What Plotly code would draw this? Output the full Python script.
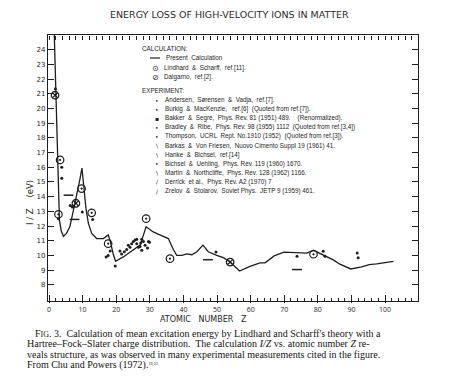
import plotly.graph_objects as go

# ---------------- data ----------------
curve_z = [1.55, 2.75, 3.1, 3.6, 4.3, 5.2, 6.2, 7.2, 8.2, 9.2, 9.8, 10.5, 11.0, 11.7, 12.7,
           14.2, 16.2, 17.6, 18.2, 19.1, 19.8, 22.1, 25.1, 27.1, 28.9, 31.0, 33.0, 35.5,
           37.0, 38.0, 39.5, 41.0, 42.5, 44.0, 45.8, 47.4, 49.9, 51.9, 53.9, 56.7, 59.8,
           62.8, 64.3, 67.0, 69.9, 73.9, 76.7, 78.7, 81.0, 84.6, 86.4, 89.8, 93.0, 95.3,
           97.5, 102.5]
curve_v = [25.2, 13.8, 12.4, 11.7, 11.3, 11.5, 11.95, 13.0, 14.0, 15.2, 15.95, 14.2, 13.2,
           12.2, 11.5, 11.15, 11.15, 11.4, 11.0, 10.1, 9.6, 9.9, 10.35, 10.7, 11.95, 11.6,
           11.4, 11.15, 10.4, 10.0, 10.0, 10.1, 10.05, 10.25, 10.7, 10.25, 10.0, 9.85, 9.55,
           8.94, 9.25, 9.5, 9.5, 9.97, 10.23, 10.18, 10.16, 10.35, 10.08, 9.7, 9.42, 9.08,
           9.22, 9.38, 9.42, 9.6]

lindhard_z = [2.8, 3.3, 9.7, 12.7, 17.6, 28.9, 36.0, 78.7]
lindhard_v = [12.8, 16.5, 14.55, 12.9, 10.8, 12.5, 9.78, 10.08]

dalgarno_z = [1.8, 8.0, 53.9]
dalgarno_v = [20.9, 13.55, 9.55]

exp_dot_z = [1.9, 3.8, 3.8, 2.8, 6.3, 6.9, 7.3, 9.9, 13.0, 17.0, 17.6, 18.2, 19.7, 21.1,
             21.6, 22.4, 23.1, 23.6, 24.1, 24.6, 25.1, 25.6, 26.1, 26.1, 26.6, 27.1, 27.3,
             27.6, 27.6, 28.1, 28.6, 29.3, 29.6, 29.9, 49.7, 73.8, 81.6, 82.1, 91.7, 92.0]
exp_dot_v = [21.35, 16.0, 15.25, 12.5, 13.4, 13.3, 13.35, 12.95, 12.45, 9.9, 10.0, 10.3,
             9.28, 10.3, 10.1, 10.25, 10.4, 10.7, 10.55, 10.8, 10.95, 11.05, 11.1, 10.8,
             10.55, 10.6, 10.85, 11.1, 10.35, 10.95, 10.7, 10.5, 10.95, 10.9, 10.23, 9.95,
             10.28, 9.95, 10.16, 9.85]

exp_dash_z = [5.8, 7.6, 47.3, 73.8]
exp_dash_v = [14.1, 12.45, 9.71, 9.04]

x_major_step = 10
x_minor_step = 2
y_tick_vals = list(range(8, 25))

title_text = "ENERGY LOSS OF HIGH-VELOCITY IONS IN MATTER"
x_title = "ATOMIC&nbsp;&nbsp;&nbsp;NUMBER&nbsp;&nbsp;&nbsp;Z"
y_title = "I / Z&nbsp;&nbsp;&nbsp;&nbsp;(eV)"

calc_header = "CALCULATION:"
calc_labels = ["Present  Calculation",
               "Lindhard  &  Scharff,  ref.[11].",
               "Dalgarno,  ref.[2]."]
calc_glyphs = ["line", "⊙", "⊘"]

exp_header = "EXPERIMENT:"
exp_labels = [
    "Andersen,  Sørensen  &  Vadja,  ref.[7].",
    "Burkig  &  MacKenzie,   ref.[6]  (Quoted from ref.[7]).",
    "Bakker  &  Segre,  Phys. Rev. 81 (1951) 489.    (Renormalized).",
    "Bradley  &  Ribe,  Phys. Rev. 98 (1955) 1112  (Quoted from ref.[3,4])",
    "Thompson,  UCRL  Rept. No.1910 (1952)  (Quoted from ref.[3]).",
    "Barkas  &  Von Friesen,  Nuovo Cimento Suppl 19 (1961) 41.",
    "Hanke  &  Bichsel,  ref.[14]",
    "Bichsel  &  Uehling,  Phys. Rev. 119 (1960) 1670.",
    "Martin  &  Northcliffe,  Phys. Rev. 128 (1962) 1166.",
    "Derrick  et al.,  Phys. Rev. A2 (1970) 7",
    "Zrelov  &  Stolarov,  Soviet Phys.  JETP 9 (1959) 461.",
]
exp_glyphs = ["•", "•", "▪", "•", "•", "\\", "\\", "•", "\\", "/", "/"]

caption_lines = [
    "F<span style='font-size:8px'>IG</span>. 3.  Calculation of mean excitation energy by Lindhard and Scharff's theory with a",
    "Hartree–Fock–Slater charge distribution.  The calculation <i>I/Z</i> vs. atomic number <i>Z</i> re-",
    "veals structure, as was observed in many experimental measurements cited in the figure.",
    "From Chu and Powers (1972).<span style='font-size:6px'><sup>19,23</sup></span>",
]

# ---------------- layout geometry ----------------
W, H = 465, 389
L, R, T, B = 48, 47, 35, 88
PW, PH = W - L - R, H - T - B
INK = "#1e1e1e"
XR = [-0.3, 109.8]


def px(x):
    return (x - L) / PW


def py(y):
    return (H - B - y) / PH


fig = go.Figure()

fig.add_trace(go.Scatter(x=curve_z, y=curve_v, mode="lines",
                         line=dict(color=INK, width=1.3), name="Present Calculation"))
fig.add_trace(go.Scatter(x=exp_dot_z, y=exp_dot_v, mode="markers",
                         marker=dict(color=INK, size=3), name="Experiment"))
fig.add_trace(go.Scatter(x=exp_dash_z, y=exp_dash_v, mode="markers",
                         marker=dict(symbol="line-ew", size=7,
                                     line=dict(color=INK, width=1.5)), name="Experiment"))
fig.add_trace(go.Scatter(x=lindhard_z, y=lindhard_v, mode="markers",
                         marker=dict(symbol="circle-open-dot", size=7.5, color=INK,
                                     line=dict(color=INK, width=1.2)),
                         name="Lindhard & Scharff"))
fig.add_trace(go.Scatter(x=dalgarno_z, y=dalgarno_v, mode="markers",
                         marker=dict(symbol="circle-x-open", size=7.5, color=INK,
                                     line=dict(color=INK, width=1.3)),
                         name="Dalgarno"))
# invisible carriers for the tick-only overlay axes (major, minor, top)
for ax in ["x2", "x3", "x4"]:
    fig.add_trace(go.Scatter(x=[0, 100], y=[8, 8], xaxis=ax, mode="markers",
                             marker=dict(opacity=0), hoverinfo="skip", showlegend=False))

annotations = []
shapes = []

annotations.append(dict(text=title_text, xref="paper", yref="paper", x=px(229), y=py(15),
                        xanchor="center", yanchor="middle", showarrow=False,
                        font=dict(family="DejaVu Sans", size=9.5, color="#2a2a2a")))
annotations.append(dict(text=x_title, xref="paper", yref="paper", x=px(203), y=py(319),
                        xanchor="center", yanchor="middle", showarrow=False,
                        font=dict(family="DejaVu Sans", size=8, color=INK)))
annotations.append(dict(text=y_title, xref="paper", yref="paper", x=px(30), y=py(203),
                        xanchor="center", yanchor="middle", showarrow=False, textangle=-90,
                        font=dict(family="DejaVu Sans", size=8.5, color=INK)))

leg_font = dict(family="Liberation Sans", size=6.3, color=INK)
annotations.append(dict(text=calc_header, xref="paper", yref="paper", x=px(140), y=py(48),
                        xanchor="left", yanchor="middle", showarrow=False, font=leg_font))
calc_y = [58, 68, 77]
for lab, g, yy in zip(calc_labels, calc_glyphs, calc_y):
    if g == "line":
        shapes.append(dict(type="line", xref="paper", yref="paper", x0=px(150), x1=px(160),
                           y0=py(yy), y1=py(yy), line=dict(color=INK, width=1.2)))
        tx = 164
    else:
        annotations.append(dict(text=g, xref="paper", yref="paper", x=px(155), y=py(yy),
                                xanchor="center", yanchor="middle", showarrow=False,
                                font=dict(family="DejaVu Sans", size=8, color=INK)))
        tx = 162
    annotations.append(dict(text=lab, xref="paper", yref="paper", x=px(tx), y=py(yy),
                            xanchor="left", yanchor="middle", showarrow=False, font=leg_font))

annotations.append(dict(text=exp_header, xref="paper", yref="paper", x=px(140), y=py(90),
                        xanchor="left", yanchor="middle", showarrow=False, font=leg_font))
for i, (lab, g) in enumerate(zip(exp_labels, exp_glyphs)):
    yy = 100 + i * 9.1
    annotations.append(dict(text=g, xref="paper", yref="paper", x=px(157), y=py(yy),
                            xanchor="center", yanchor="middle", showarrow=False,
                            font=dict(family="DejaVu Sans", size=6, color=INK)))
    annotations.append(dict(text=lab, xref="paper", yref="paper", x=px(163), y=py(yy),
                            xanchor="left", yanchor="middle", showarrow=False, font=leg_font))

cap_font = dict(family="Liberation Serif", size=10, color="#141414")
cap_x = [33, 25, 25, 25]
cap_y = [333, 343.5, 354, 364.5]
for t, cx, cy in zip(caption_lines, cap_x, cap_y):
    annotations.append(dict(text=t, xref="paper", yref="paper", x=px(cx), y=py(cy),
                            xanchor="left", yanchor="middle", showarrow=False, font=cap_font))

# tick-only axes: an axis sitting on the bottom edge but with side="top" draws its
# "outside" ticks upward into the plot (and vice versa for the top edge)
tick_only = dict(range=XR, overlaying="x", anchor="free", tickmode="linear", tick0=0,
                 showticklabels=False, ticks="outside", tickcolor=INK,
                 showline=False, showgrid=False, zeroline=False)

fig.update_layout(
    width=W, height=H,
    margin=dict(l=L, r=R, t=T, b=B),
    paper_bgcolor="white", plot_bgcolor="white",
    showlegend=False,
    annotations=annotations, shapes=shapes,
    xaxis=dict(range=XR, tickmode="linear", tick0=0, dtick=x_major_step,
               ticks="outside", ticklen=1, tickcolor=INK,
               showline=True, linecolor=INK, linewidth=1.2, mirror=True,
               showgrid=False, zeroline=False,
               tickfont=dict(size=7, color=INK)),
    xaxis2=dict(tick_only, side="top", position=0, dtick=x_major_step, ticklen=6),
    xaxis3=dict(tick_only, side="top", position=0, dtick=x_minor_step, ticklen=3),
    xaxis4=dict(tick_only, side="bottom", position=1, dtick=x_minor_step, ticklen=4),
    yaxis=dict(range=[6.9, 25.0], tickmode="array", tickvals=y_tick_vals,
               ticks="inside", ticklen=6, tickwidth=1, tickcolor=INK,
               showline=True, linecolor=INK, linewidth=1.2, mirror="ticks",
               showgrid=False, zeroline=False,
               tickfont=dict(family="DejaVu Sans", size=7, color=INK)),
)

fig.write_html("out.html", config={"displayModeBar": False},
               post_script="document.body.style.margin='0';")
